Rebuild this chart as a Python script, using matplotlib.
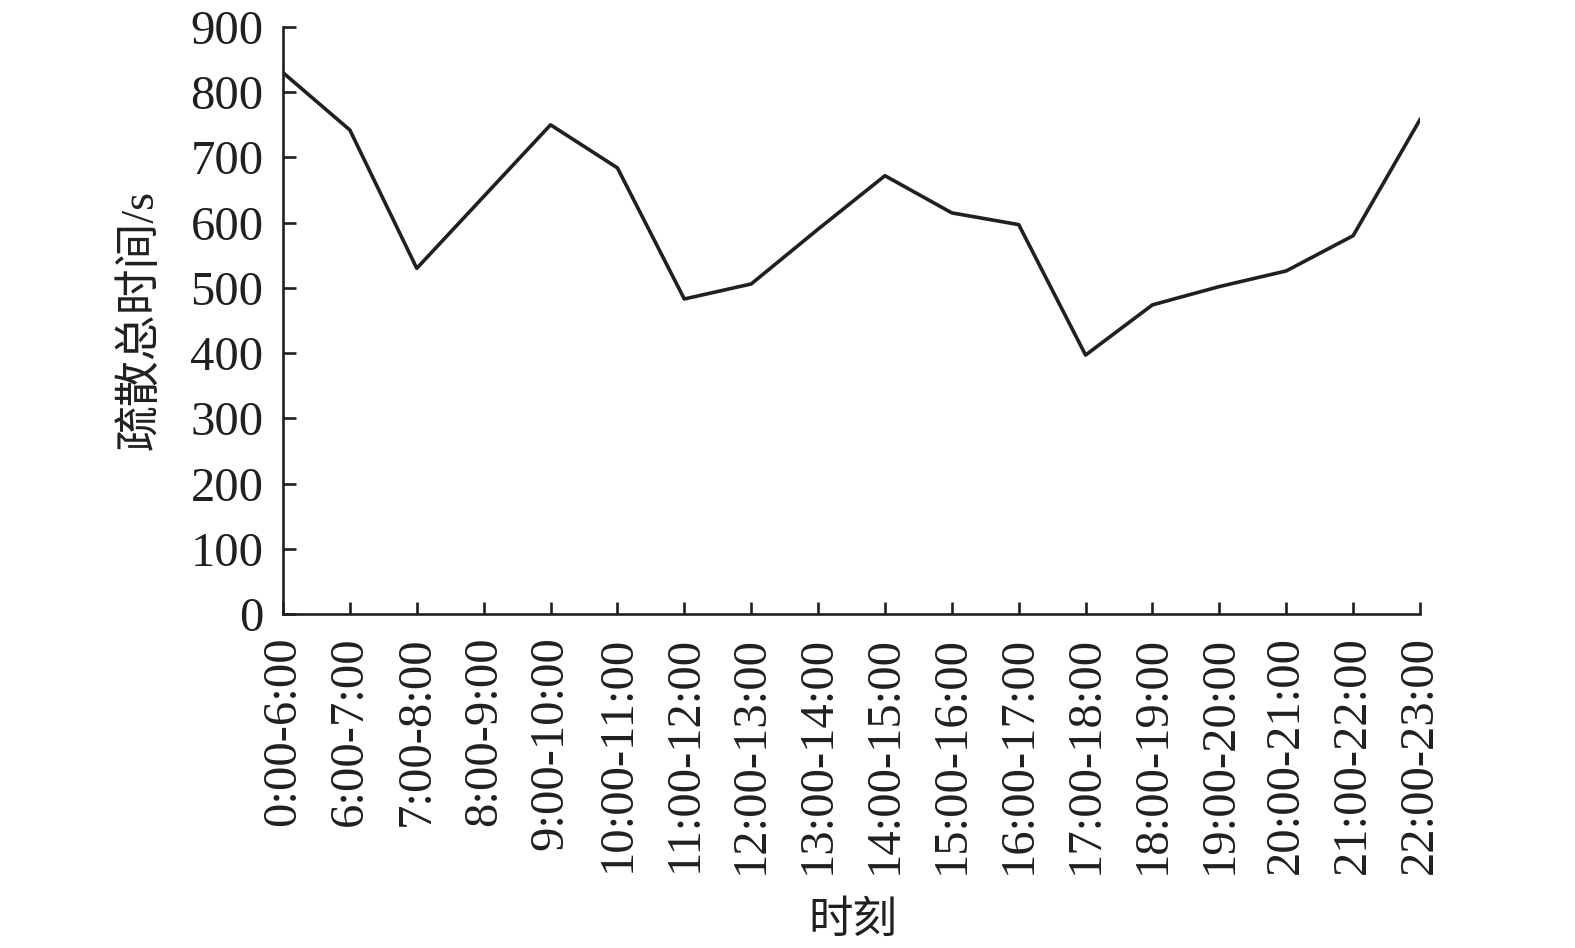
import matplotlib
matplotlib.use("Agg")
import matplotlib.pyplot as plt

periods = ["0:00-6:00", "6:00-7:00", "7:00-8:00", "8:00-9:00", "9:00-10:00",
           "10:00-11:00", "11:00-12:00", "12:00-13:00", "13:00-14:00",
           "14:00-15:00", "15:00-16:00", "16:00-17:00", "17:00-18:00",
           "18:00-19:00", "19:00-20:00", "20:00-21:00", "21:00-22:00",
           "22:00-23:00"]
total_time = [830, 742, 530, 640, 750, 684, 483, 506, 590, 672, 615, 597,
              397, 474, 502, 526, 580, 758]
y_ticks = [0, 100, 200, 300, 400, 500, 600, 700, 800, 900]

plt.rcParams['font.family'] = ['Liberation Serif', 'Noto Sans CJK SC']
plt.rcParams['font.size'] = 35

fig = plt.figure(figsize=(15.75, 9.48), dpi=100)
ax = fig.add_axes([283 / 1575, 1 - 614 / 948, 1137 / 1575, 587 / 948])

x = list(range(len(periods)))
ax.plot(x, total_time, color="#231f20", linewidth=2.6)

ax.set_xlim(0, len(periods) - 1)
ax.set_ylim(0, 900)
ax.set_xticks(x)
ax.set_xticklabels(periods, rotation=90)
ax.set_yticks(y_ticks)

for side in ["top", "right"]:
    ax.spines[side].set_visible(False)
for side in ["left", "bottom"]:
    ax.spines[side].set_linewidth(1.9)
    ax.spines[side].set_color("#231f20")

ax.tick_params(axis="both", direction="in", length=9, width=1.9,
               color="#231f20", labelcolor="#231f20")
ax.tick_params(axis="y", pad=14)
ax.tick_params(axis="x", pad=16)

fig.text(141 / 1575, 1 - 320 / 948, "疏散总时间/s", rotation=90,
         ha="center", va="center", fontsize=33, color="#231f20")
fig.text(853 / 1575, 1 - 922 / 948, "时刻", ha="center", va="center",
         fontsize=32, color="#231f20")

fig.savefig("out.png", dpi=100)
